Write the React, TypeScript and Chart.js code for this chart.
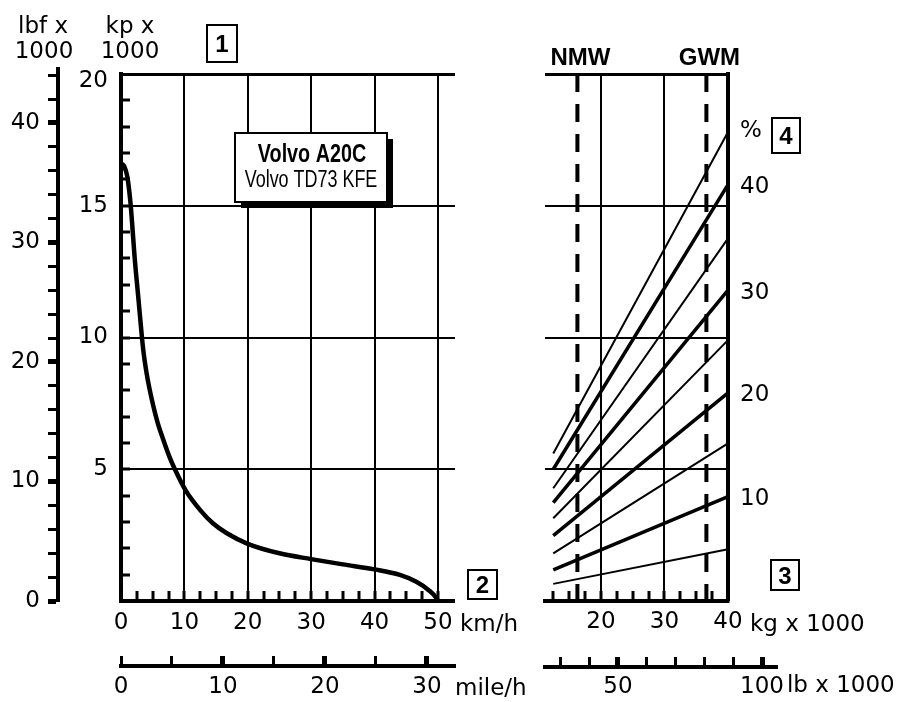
import React, { useEffect, useRef } from 'react';
import { Chart, registerables } from 'chart.js';

Chart.register(...registerables);

// ---------- data ----------
// Rimpull curve (left panel): speed in km/h, rimpull in kp x 1000
const speedKmh = [0, 0.5, 1.0, 1.5, 2.2, 2.7, 3.0, 3.5, 4.0, 4.5, 5.1, 5.8, 6.7, 7.6, 8.5, 10.2, 12.5, 14.5, 16.7, 20, 25, 30, 35, 40, 44, 46.6, 48.5, 49.8, 50];
const rimpullKp = [16.6, 16.5, 16.1, 15.1, 12.9, 11.6, 10.8, 9.55, 8.7, 8.05, 7.4, 6.75, 6.1, 5.5, 5.0, 4.2, 3.45, 2.95, 2.57, 2.17, 1.81, 1.59, 1.39, 1.2, 0.99, 0.73, 0.42, 0.1, 0];

// Grade resistance lines (right panel): weight in kg x 1000 vs kp x 1000
const grades = [5, 10, 15, 20, 25, 30, 35, 40, 45];
const gradeWeights = [12.5, 40];
const gradeStartKp = [0.65, 1.18, 1.81, 2.48, 3.14, 3.73, 4.28, 5.0, 5.6];
const gradeEndKp = [1.96, 3.96, 5.98, 7.9, 9.9, 11.8, 13.76, 15.8, 17.8];
const gradeLabels = ['', '10', '', '20', '', '30', '', '40', '%'];
const boldGrades = [10, 20, 30, 40];

// Machine weights (kg x 1000)
const weightNames = ['NMW', 'GWM'];
const weightValues = [16.3, 36.6];

// Tick values
const kpTicks = [0, 1, 2, 3, 4, 5, 6, 7, 8, 9, 10, 11, 12, 13, 14, 15, 16, 17, 18, 19, 20];
const lbfTicks = [0, 2, 4, 6, 8, 10, 12, 14, 16, 18, 20, 22, 24, 26, 28, 30, 32, 34, 36, 38, 40, 42, 44];
const kmhTicks = [0, 2.5, 5, 7.5, 10, 12.5, 15, 17.5, 20, 22.5, 25, 27.5, 30, 32.5, 35, 37.5, 40, 42.5, 45, 47.5, 50];
const mphTicks = [0, 5, 10, 15, 20, 25, 30];
const kgTicks = [12.5, 15, 17.5, 20, 22.5, 25, 27.5, 30, 32.5, 35, 37.5, 40];
const lbTicks = [30, 40, 50, 60, 70, 80, 90, 100];
const kmhLabelled = [0, 10, 20, 30, 40, 50];
const kgLabelled = [20, 30, 40];
const lbLabelled = [50, 100];

// ranges & unit conversions
const kmhMax = 52.7;
const kpMax = 20;
const LBF_PER_KP = 2.20462;
const KMH_PER_MPH = 1.609344;
const T_PER_KLB = 0.45359;
const kgMin = 11.2;
const kgMax = 40;
const lbMax = 105.5;

const FONT = "'DejaVu Sans', sans-serif";
const tickFont = { family: FONT, size: 23, lineHeight: 1 };

function numBox(ctx: CanvasRenderingContext2D, text: string, x: number, y: number, w: number, h: number) {
  ctx.save();
  ctx.fillStyle = '#fff';
  ctx.fillRect(x, y, w, h);
  ctx.strokeStyle = '#000';
  ctx.lineWidth = 2;
  ctx.strokeRect(x, y, w, h);
  ctx.fillStyle = '#000';
  ctx.font = "bold 24px 'Liberation Sans', Arial, sans-serif";
  ctx.textAlign = 'center';
  ctx.textBaseline = 'alphabetic';
  ctx.fillText(text, x + w / 2, y + h / 2 + 8.5);
  ctx.restore();
}

function condensedText(ctx: CanvasRenderingContext2D, text: string, cx: number, baseline: number, font: string, sx: number) {
  ctx.save();
  ctx.translate(cx, baseline);
  ctx.scale(sx, 1);
  ctx.font = font;
  ctx.textAlign = 'center';
  ctx.textBaseline = 'alphabetic';
  ctx.fillText(text, 0, 0);
  ctx.restore();
}

const leftDecor = {
  id: 'leftDecor',
  afterDraw(chart: any) {
    const ctx: CanvasRenderingContext2D = chart.ctx;
    const xs = chart.scales.x;
    const mph = chart.scales.mph;
    const lbf = chart.scales.lbf;
    ctx.save();
    // small extension of the outer axis line above the plot top
    ctx.strokeStyle = '#000';
    ctx.lineWidth = 4;
    ctx.beginPath();
    ctx.moveTo(lbf.right, lbf.top + 1);
    ctx.lineTo(lbf.right, lbf.top - 7);
    ctx.stroke();

    ctx.fillStyle = '#000';
    ctx.font = `23px ${FONT}`;
    ctx.textAlign = 'center';
    ctx.textBaseline = 'alphabetic';
    ctx.fillText('lbf x', 43, 33);
    ctx.fillText('1000', 44, 58);
    ctx.fillText('kp x', 130, 33);
    ctx.fillText('1000', 130, 58);
    ctx.textAlign = 'left';
    ctx.fillText('km/h', xs.right + 5, 631);
    ctx.fillText('mile/h', mph.right, 695);

    numBox(ctx, '1', 207, 25, 30, 37);
    numBox(ctx, '2', 468, 570, 29, 29);

    // model label box with shadow
    const bx = 235, by = 133, bw = 152, bh = 69;
    ctx.fillStyle = '#000';
    ctx.fillRect(bx + 6, by + 6, bw, bh);
    ctx.fillStyle = '#fff';
    ctx.fillRect(bx, by, bw, bh);
    ctx.strokeStyle = '#000';
    ctx.lineWidth = 2;
    ctx.strokeRect(bx, by, bw, bh);
    ctx.fillStyle = '#000';
    condensedText(ctx, 'Volvo A20C', bx + bw / 2 + 1, 162, "bold 25px 'Liberation Sans', Arial, sans-serif", 0.79);
    condensedText(ctx, 'Volvo TD73 KFE', bx + bw / 2, 187, "23px 'Liberation Sans', Arial, sans-serif", 0.78);
    ctx.restore();
  },
};

const rightDecor = {
  id: 'rightDecor',
  afterLayout(chart: any) {
    const kg = chart.scales.x;
    const lb = chart.scales.lb;
    if (!kg || !lb) return;
    const right = kg.getPixelForValue(lbMax * T_PER_KLB);
    lb.right = right;
    lb.width = right - lb.left;
    lb.configure();
  },
  afterDraw(chart: any) {
    const ctx: CanvasRenderingContext2D = chart.ctx;
    const xs = chart.scales.x;
    const ys = chart.scales.y;
    const lb = chart.scales.lb;
    const area = chart.chartArea;
    ctx.save();
    ctx.fillStyle = '#000';
    ctx.font = "bold 24px 'Liberation Sans', Arial, sans-serif";
    ctx.textAlign = 'center';
    ctx.textBaseline = 'alphabetic';
    weightNames.forEach((n, i) => {
      ctx.fillText(n, xs.getPixelForValue(weightValues[i]) + 3, 65);
    });
    ctx.font = `23px ${FONT}`;
    ctx.textAlign = 'left';
    gradeLabels.forEach((lab, i) => {
      if (!lab) return;
      const y = ys.getPixelForValue(gradeEndKp[i]);
      ctx.fillText(lab, area.right + 12, y + (lab === '%' ? 5 : 8.5));
    });
    ctx.fillText('kg x 1000', xs.right + 22, 631);
    ctx.fillText('lb x 1000', lb.right + 9, 692);
    numBox(ctx, '4', 772, 118, 28, 35);
    numBox(ctx, '3', 771, 560, 28, 30);
    ctx.restore();
  },
};

const isTick = (ctx: any) => ctx && ctx.tick;

export default function App() {
  const leftRef = useRef<HTMLCanvasElement>(null);
  const rightRef = useRef<HTMLCanvasElement>(null);

  useEffect(() => {
    const left = new Chart(leftRef.current as HTMLCanvasElement, {
      type: 'line',
      data: {
        datasets: [
          {
            data: speedKmh.map((x, i) => ({ x, y: rimpullKp[i] })),
            borderColor: '#000',
            borderWidth: 4.5,
            pointRadius: 0,
            fill: false,
            cubicInterpolationMode: 'monotone',
            clip: false as any,
          },
        ],
      },
      options: {
        animation: false,
        responsive: false,
        maintainAspectRatio: false,
        events: [],
        layout: { padding: { left: 0, top: 74, right: 449, bottom: 0 } },
        plugins: { legend: { display: false }, tooltip: { enabled: false } },
        scales: {
          x: {
            type: 'linear',
            position: 'bottom',
            weight: 0,
            min: 0,
            max: kmhMax,
            afterBuildTicks: (s: any) => { s.ticks = kmhTicks.map((v) => ({ value: v })); },
            afterFit: (s: any) => { s.height = 65; },
            grid: {
              color: '#000',
              lineWidth: (c: any) => (isTick(c) && c.tick.value % 10 === 0 && c.tick.value > 0 ? 2 : 0),
              tickLength: -10,
              tickWidth: 3,
              tickColor: '#000',
            },
            border: { color: '#000', width: 4 },
            ticks: {
              color: '#000',
              font: tickFont,
              padding: 20.5,
              maxRotation: 0,
              minRotation: 0,
              autoSkip: false,
              callback: (v: any) => (kmhLabelled.includes(Number(v)) ? String(v) : ''),
            },
          },
          mph: {
            type: 'linear',
            axis: 'x',
            position: 'bottom',
            weight: 1,
            min: 0,
            max: kmhMax / KMH_PER_MPH,
            afterBuildTicks: (s: any) => { s.ticks = mphTicks.map((v) => ({ value: v })); },
            afterFit: (s: any) => { s.height = 36; },
            grid: {
              drawOnChartArea: false,
              color: '#000',
              tickLength: -10,
              tickWidth: (c: any) => (isTick(c) && c.tick.value % 10 === 0 && c.tick.value > 0 ? 5 : 3),
              tickColor: '#000',
            },
            border: { color: '#000', width: 4 },
            ticks: {
              color: '#000',
              font: tickFont,
              padding: 19.5,
              maxRotation: 0,
              minRotation: 0,
              autoSkip: false,
              callback: (v: any) => (Number(v) % 10 === 0 ? String(v) : ''),
            },
          },
          y: {
            type: 'linear',
            position: 'left',
            weight: 0,
            min: 0,
            max: kpMax,
            afterBuildTicks: (s: any) => { s.ticks = kpTicks.map((v) => ({ value: v })); },
            afterFit: (s: any) => { s.width = 63; },
            grid: {
              color: '#000',
              lineWidth: (c: any) => {
                if (!isTick(c)) return 0;
                const v = c.tick.value;
                if (v === kpMax) return 3;
                return v % 5 === 0 && v > 0 ? 2 : 0;
              },
              tickLength: -9,
              tickWidth: 3,
              tickColor: '#000',
            },
            border: { color: '#000', width: 4 },
            ticks: {
              color: '#000',
              font: (c: any) => ({ family: FONT, size: 23, lineHeight: isTick(c) && c.tick.value === kpMax ? '14px' : 1 }),
              padding: 22,
              autoSkip: false,
              callback: (v: any) => {
                const n = Number(v);
                if (n === kpMax) return ['', String(n)];
                return n % 5 === 0 && n > 0 ? String(n) : '';
              },
            },
          },
          lbf: {
            type: 'linear',
            axis: 'y',
            position: 'left',
            weight: 1,
            min: 0,
            max: kpMax * LBF_PER_KP,
            afterBuildTicks: (s: any) => { s.ticks = lbfTicks.map((v) => ({ value: v })); },
            afterFit: (s: any) => { s.width = 58; },
            grid: {
              drawOnChartArea: false,
              color: '#000',
              tickLength: 10,
              tickWidth: (c: any) => (isTick(c) && c.tick.value % 10 === 0 ? 5 : 3),
              tickColor: '#000',
            },
            border: { color: '#000', width: 4 },
            ticks: {
              color: '#000',
              font: tickFont,
              padding: 8,
              autoSkip: false,
              callback: (v: any) => (Number(v) % 10 === 0 ? String(v) : ''),
            },
          },
        },
      } as any,
      plugins: [leftDecor],
    });

    const gradeSets = grades.map((g, i) => ({
      data: [
        { x: gradeWeights[0], y: gradeStartKp[i] },
        { x: gradeWeights[1], y: gradeEndKp[i] },
      ],
      borderColor: '#000',
      borderWidth: boldGrades.includes(g) ? 3.5 : 2,
      pointRadius: 0,
      fill: false,
      clip: false as any,
    }));
    const weightSets = weightValues.map((w) => ({
      data: [
        { x: w, y: kpMax },
        { x: w, y: 0 },
      ],
      borderColor: '#000',
      borderWidth: 4,
      borderDash: [18, 12],
      pointRadius: 0,
      fill: false,
      clip: false as any,
    }));

    const right = new Chart(rightRef.current as HTMLCanvasElement, {
      type: 'line',
      data: { datasets: [...gradeSets, ...weightSets] },
      options: {
        animation: false,
        responsive: false,
        maintainAspectRatio: false,
        events: [],
        layout: { padding: { left: 545, top: 74, right: 176, bottom: 0 } },
        plugins: { legend: { display: false }, tooltip: { enabled: false } },
        scales: {
          x: {
            type: 'linear',
            position: 'bottom',
            weight: 0,
            min: kgMin,
            max: kgMax,
            afterBuildTicks: (s: any) => { s.ticks = kgTicks.map((v) => ({ value: v })); },
            afterFit: (s: any) => { s.height = 66; },
            grid: {
              color: '#000',
              lineWidth: (c: any) => (isTick(c) && (c.tick.value === 20 || c.tick.value === 30) ? 2 : 0),
              tickLength: -10,
              tickWidth: 3,
              tickColor: '#000',
            },
            border: { color: '#000', width: 4 },
            ticks: {
              color: '#000',
              font: tickFont,
              padding: 20,
              maxRotation: 0,
              minRotation: 0,
              autoSkip: false,
              callback: (v: any) => (kgLabelled.includes(Number(v)) ? String(v) : ''),
            },
          },
          lb: {
            type: 'linear',
            axis: 'x',
            position: 'bottom',
            weight: 1,
            min: kgMin / T_PER_KLB,
            max: lbMax,
            afterBuildTicks: (s: any) => { s.ticks = lbTicks.map((v) => ({ value: v })); },
            afterFit: (s: any) => { s.height = 35; },
            grid: {
              drawOnChartArea: false,
              color: '#000',
              tickLength: -10,
              tickWidth: (c: any) => (isTick(c) && lbLabelled.includes(c.tick.value) ? 5 : 3),
              tickColor: '#000',
            },
            border: { color: '#000', width: 4 },
            ticks: {
              color: '#000',
              font: tickFont,
              padding: 18.5,
              maxRotation: 0,
              minRotation: 0,
              autoSkip: false,
              callback: (v: any) => (lbLabelled.includes(Number(v)) ? String(v) : ''),
            },
          },
          y: {
            type: 'linear',
            position: 'right',
            min: 0,
            max: kpMax,
            afterBuildTicks: (s: any) => { s.ticks = kpTicks.map((v) => ({ value: v })); },
            afterFit: (s: any) => { s.width = 0; },
            grid: {
              color: '#000',
              lineWidth: (c: any) => {
                if (!isTick(c)) return 0;
                const v = c.tick.value;
                if (v === kpMax) return 3;
                return v % 5 === 0 && v > 0 ? 2 : 0;
              },
              drawTicks: false,
            },
            border: { color: '#000', width: 4 },
            ticks: { display: false },
          },
        },
      } as any,
      plugins: [rightDecor],
    });

    return () => {
      left.destroy();
      right.destroy();
    };
  }, []);

  const canvasStyle: React.CSSProperties = { position: 'absolute', left: 0, top: 0, width: 904, height: 702 };
  return (
    <div style={{ position: 'absolute', left: 0, top: 0, width: 904, height: 702, background: '#fff' }}>
      <canvas ref={leftRef} width={904} height={702} style={canvasStyle} />
      <canvas ref={rightRef} width={904} height={702} style={canvasStyle} />
    </div>
  );
}
